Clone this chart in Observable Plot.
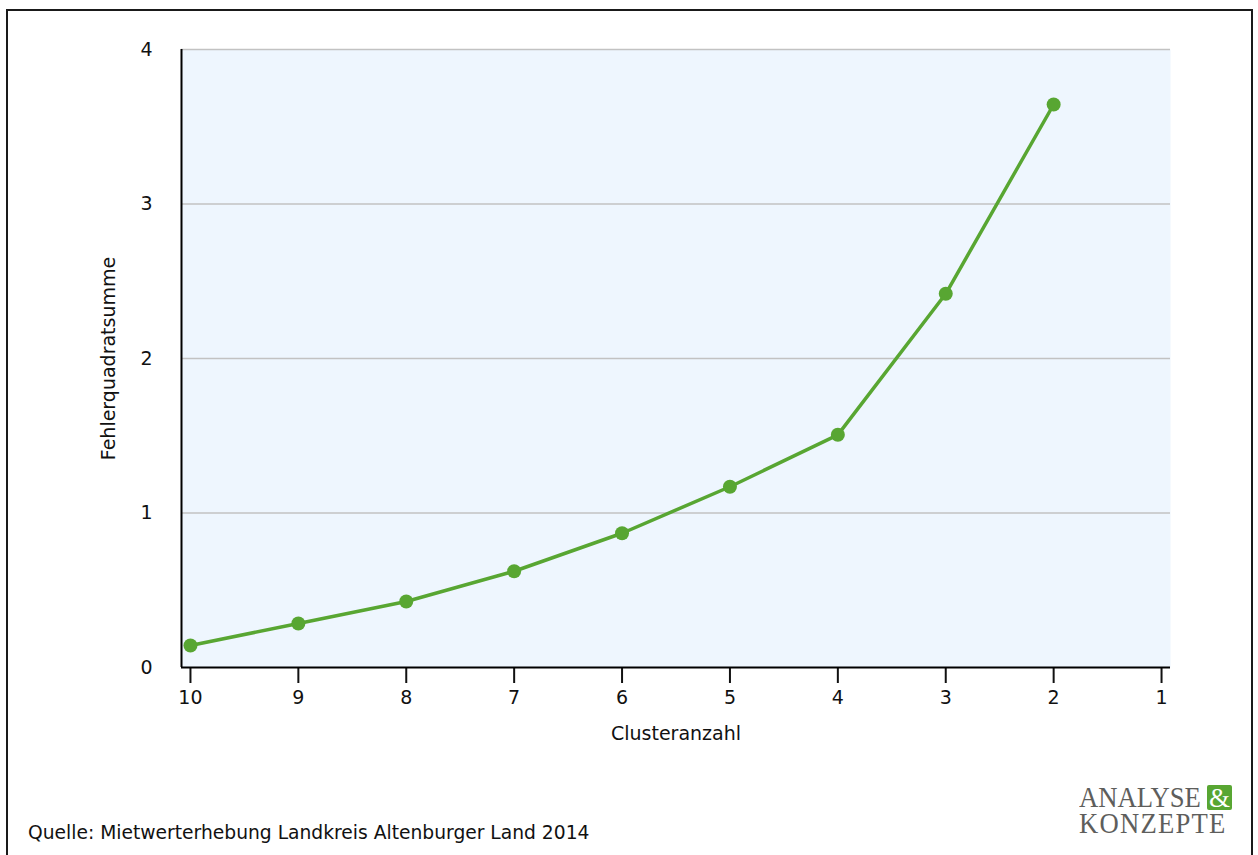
<!DOCTYPE html>
<html>
<head>
<meta charset="utf-8">
<script src="https://cdn.jsdelivr.net/npm/d3@7"></script>
<script src="https://cdn.jsdelivr.net/npm/@observablehq/plot@0.6"></script>
<style>
  html, body { margin: 0; padding: 0; background: #fff; }
  #page { position: relative; width: 1258px; height: 855px; overflow: hidden; font-family: "DejaVu Sans", Verdana, sans-serif; }
  #border { position: absolute; left: 6px; top: 9px; width: 1243px; height: 900px; border: 2px solid #1a1a1a; border-bottom: none; }
  #chart { position: absolute; left: 0; top: 0; }
  #caption { position: absolute; left: 28px; top: 822px; font-size: 18.7px; color: #111; white-space: nowrap; }
  .logo { position: absolute; left: 1079px; font-family: "Liberation Serif", "DejaVu Serif", serif; color: #5e5e5c; font-size: 29px; line-height: 26px; height: 26px; transform: scaleX(0.92); transform-origin: left top; white-space: nowrap; }
  #logo1 { top: 784px; }
  #logo2 { top: 810px; letter-spacing: 1.3px; }
  .amp { position: absolute; left: 1207px; top: 785px; width: 25px; height: 25px; background: #58a632; color: #fff; border-radius: 2px; text-align: center; font-family: "Liberation Serif", "DejaVu Serif", serif; font-size: 27px; line-height: 27px; }
</style>
</head>
<body>
<div id="page">
  <div id="border"></div>
  <div id="chart"></div>
  <div id="caption">Quelle: Mietwerterhebung Landkreis Altenburger Land 2014</div>
  <div class="logo" id="logo1">ANALYSE</div>
  <div class="amp">&amp;</div>
  <div class="logo" id="logo2">KONZEPTE</div>
</div>
<script>
const clusters = [10, 9, 8, 7, 6, 5, 4, 3, 2];
const sse = [0.142, 0.285, 0.427, 0.623, 0.869, 1.170, 1.506, 2.419, 3.644];
const xTicks = [10, 9, 8, 7, 6, 5, 4, 3, 2, 1];
const yTicks = [0, 1, 2, 3, 4];
const gridLines = [1, 2, 3, 4];
const xDomain = [10.083, 0.917];
const yDomain = [0, 4];

const data = clusters.map((c, i) => ({c, v: sse[i]}));

const chart = Plot.plot({
  width: 1258,
  height: 760,
  marginLeft: 181,
  marginRight: 88,
  marginTop: 49,
  marginBottom: 93,
  style: {fontFamily: "DejaVu Sans, Verdana, sans-serif", fontSize: "19px", color: "#111", background: "transparent"},
  x: {domain: xDomain},
  y: {domain: yDomain},
  marks: [
    Plot.frame({fill: "#eef6fe", stroke: null}),
    Plot.ruleY(gridLines, {stroke: "#c2c2c2", strokeWidth: 1.5}),
    Plot.axisX({ticks: xTicks, tickSize: 16, tickPadding: 7, strokeWidth: 2, fontSize: 19, tickFormat: d => String(d), label: "Clusteranzahl", labelAnchor: "center", labelArrow: "none", labelOffset: 72}),
    Plot.axisY({ticks: yTicks, tickSize: 0, tickPadding: 29, fontSize: 19, tickFormat: d => String(d), label: "Fehlerquadratsumme", labelAnchor: "center", labelArrow: "none", labelOffset: 80}),
    Plot.ruleX([xDomain[0]], {stroke: "#000", strokeWidth: 2}),
    Plot.ruleY([0], {stroke: "#000", strokeWidth: 2}),
    Plot.line(data, {x: "c", y: "v", stroke: "#58a632", strokeWidth: 3.5}),
    Plot.dot(data, {x: "c", y: "v", r: 7, fill: "#58a632", stroke: null})
  ]
});
document.getElementById("chart").appendChild(chart);
</script>
</body>
</html>
